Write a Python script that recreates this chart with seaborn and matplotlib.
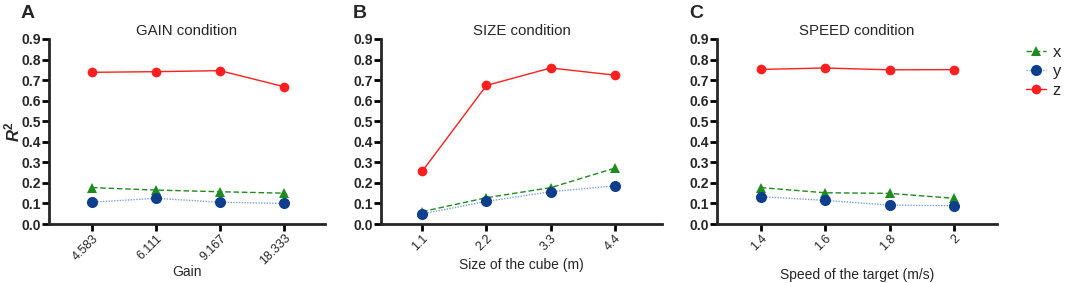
import numpy as np
import pandas as pd
import matplotlib
matplotlib.use("Agg")
import matplotlib.pyplot as plt
import seaborn as sns
from matplotlib.lines import Line2D

sns.set_style("ticks")
plt.rcParams['font.family'] = ['Liberation Sans', 'DejaVu Sans']
plt.rcParams['mathtext.fontset'] = 'custom'
plt.rcParams['mathtext.rm'] = 'Liberation Sans'
plt.rcParams['mathtext.it'] = 'Liberation Sans:italic'
plt.rcParams['mathtext.bf'] = 'Liberation Sans:bold'
plt.rcParams['mathtext.bfit'] = 'Liberation Sans:italic:bold'

# ---- data ----
gain_labels = ["4.583", "6.111", "9.167", "18.333"]
gain_x = [0.177, 0.165, 0.157, 0.150]
gain_y = [0.106, 0.125, 0.106, 0.100]
gain_z = [0.738, 0.741, 0.746, 0.668]

size_labels = ["1.1", "2.2", "3.3", "4.4"]
size_x = [0.060, 0.128, 0.177, 0.272]
size_y = [0.049, 0.110, 0.157, 0.186]
size_z = [0.256, 0.674, 0.759, 0.724]

speed_labels = ["1.4", "1.6", "1.8", "2"]
speed_x = [0.177, 0.152, 0.149, 0.125]
speed_y = [0.133, 0.115, 0.092, 0.089]
speed_z = [0.752, 0.759, 0.750, 0.751]

titles = ["GAIN condition", "SIZE condition", "SPEED condition"]
xlabels = ["Gain", "Size of the cube (m)", "Speed of the target (m/s)"]
letters = ["A", "B", "C"]
yticks = [0.0, 0.1, 0.2, 0.3, 0.4, 0.5, 0.6, 0.7, 0.8, 0.9]

panels = [
    (gain_labels, gain_x, gain_y, gain_z),
    (size_labels, size_x, size_y, size_z),
    (speed_labels, speed_x, speed_y, speed_z),
]

# styles
X_COL = "#1f8a1f"
Y_LINE = "#7f9fd8"
Y_MARK = "#0f3f8c"
Z_COL = "#ff1f1f"

fig = plt.figure(figsize=(10.65, 2.83), dpi=100)
W, H = 1065, 283
boxes = [(49, 325, -0.67, 3.64), (381, 662, -0.64, 3.73), (717, 997, -0.68, 3.67)]
xlabel_y = [272, 265, 275]
top_px, bot_px = 39, 224
ax_h = bot_px - top_px

for i, ((labels, xs, ys, zs), (l, r, xl, xr)) in enumerate(zip(panels, boxes)):
    ax = fig.add_axes([l / W, 1 - bot_px / H, (r - l) / W, ax_h / H])
    pos = np.arange(len(labels))
    sns.lineplot(x=pos, y=xs, ax=ax, color=X_COL, linestyle=(0, (4, 2)), lw=1.0,
                 marker="^", markersize=7, markeredgewidth=0, label="x")
    sns.lineplot(x=pos, y=ys, ax=ax, color=Y_LINE, linestyle=(0, (1, 1)), lw=1.0,
                 marker="o", markersize=8, markerfacecolor=Y_MARK,
                 markeredgecolor=Y_MARK, markeredgewidth=0, label="y")
    sns.lineplot(x=pos, y=zs, ax=ax, color=Z_COL, linestyle="-", lw=1.0,
                 marker="o", markersize=7, markeredgewidth=0, label="z")
    ax.get_legend().remove()
    ax.set_xlim(xl, xr)
    ax.set_ylim(0, 0.9)
    ax.set_yticks(yticks)
    ax.set_yticklabels([f"{t:.1f}" for t in yticks], fontweight="bold", fontsize=10)
    ax.set_xticks(pos)
    ax.set_xticklabels(labels, rotation=45, ha="right", rotation_mode="anchor",
                       fontsize=9)
    ax.set_xlabel(xlabels[i], fontsize=10, va="center")
    ax.xaxis.set_label_coords(0.5, -(xlabel_y[i] - bot_px) / ax_h)
    ax.set_title(titles[i], fontsize=10.8, pad=3)
    for s in ["left", "bottom"]:
        ax.spines[s].set_linewidth(2)
    sns.despine(ax=ax)
    ax.tick_params(width=2, length=5, pad=1, color="black")
    if i == 0:
        ax.set_ylabel(r"$\mathbfit{R}^{\mathbf{2}}$", fontsize=12, va="center")
        ax.yaxis.set_label_coords(-(l - 12) / (r - l), 0.5)
    else:
        ax.set_ylabel("")
    fig.text((l - 28) / W, 1 - 13 / H, letters[i], fontsize=14, fontweight="bold",
             ha="left", va="center")

handles = [
    Line2D([], [], color=X_COL, linestyle=(0, (4, 2)), lw=1.0, marker="^", markersize=7,
           markeredgewidth=0),
    Line2D([], [], color=Y_LINE, linestyle=(0, (1, 1)), lw=1.0, marker="o", markersize=8,
           markerfacecolor=Y_MARK, markeredgewidth=0),
    Line2D([], [], color=Z_COL, lw=1.0, marker="o", markersize=7, markeredgewidth=0),
]
fig.legend(handles, ["x", "y", "z"], loc="upper left", bbox_to_anchor=(1026 / W, 1 - 45 / H),
           frameon=False, fontsize=12, handlelength=1.2, handletextpad=0.4,
           labelspacing=0.25, borderaxespad=0, borderpad=0)

fig.savefig("out.png", dpi=100)
